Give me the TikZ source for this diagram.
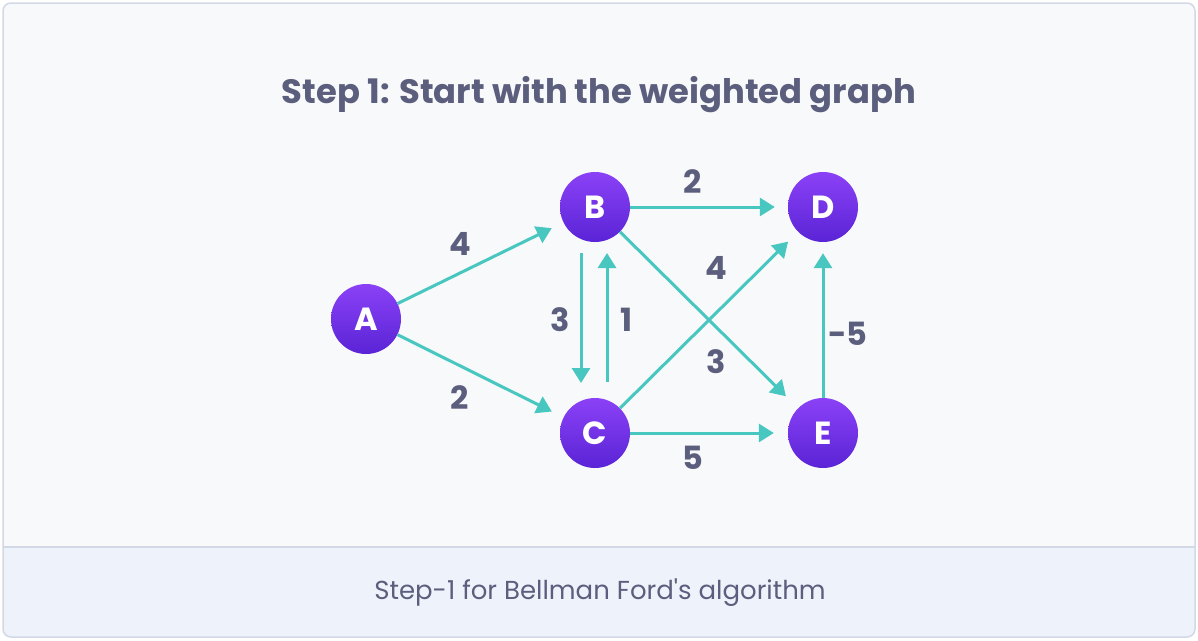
\documentclass[tikz,border=0pt]{standalone}
\usepackage{fontspec}
\setmainfont{Poppins}
\usetikzlibrary{arrows.meta}
\definecolor{edgec}{HTML}{48C6C0}
\definecolor{txtc}{HTML}{5C5E7D}
\definecolor{topc}{HTML}{8B41F6}
\definecolor{botc}{HTML}{5A24D6}
\definecolor{bgtop}{HTML}{F8F9FB}
\definecolor{bgbot}{HTML}{EEF3FB}
\definecolor{framec}{HTML}{D2D9E4}
\tikzset{
  vertex/.style={circle, minimum size=70pt, inner sep=0pt, top color=topc, bottom color=botc, text=white, font=\fontsize{32}{34}\selectfont\bfseries},
  edge/.style={draw=edgec, line width=3pt, -{Triangle[length=15pt,width=18pt]}},
  wlabel/.style={text=txtc, font=\fontsize{32}{34}\selectfont\bfseries, inner sep=0pt},
}
\begin{document}
\begin{tikzpicture}[x=1pt,y=-1pt]
\useasboundingbox (0,0) rectangle (1198,640);
% frame
\fill[bgtop, rounded corners=8pt] (3,3) rectangle (1195,637);
\fill[bgbot, rounded corners=8pt] (3,547) -- (3,637) -- (1195,637) -- (1195,547) [sharp corners] -- cycle;
\fill[bgbot] (3,547) rectangle (1195,600);
\draw[framec, line width=1.5pt] (3,547) -- (1195,547);
\draw[framec, line width=1.5pt, rounded corners=8pt] (3,3) rectangle (1195,637);
% title and caption
\node[text=txtc, font=\fontsize{33.8}{38}\selectfont\bfseries] (title) at (599,95) {Step 1: Start with the weighted graph};
\node[text=txtc, font=\fontsize{26}{30}\selectfont] (caption) at (600,593) {Step-1 for Bellman Ford\textquotesingle s algorithm};
% vertices
\node[vertex] (A) at (366,319) {A};
\node[vertex] (B) at (595,207) {B};
\node[vertex] (D) at (823,207) {D};
\node[vertex] (C) at (595,433) {C};
\node[vertex] (E) at (823,433) {E};
% edges
\draw[edge, shorten >=13pt] (A) -- (B);
\draw[edge, shorten >=13pt] (A) -- (C);
\draw[edge, shorten >=13pt] (B) -- (D);
\draw[edge, shorten >=14pt] (C) -- (E);
\draw[edge, shorten >=17pt] (B) -- (E);
\draw[edge, shorten >=14pt] (C) -- (D);
\draw[edge, shorten >=11pt] (E) -- (D);
\draw[edge, shorten <=46pt, shorten >=50pt] ([xshift=-14pt]B.center) -- ([xshift=-14pt]C.center);
\draw[edge, shorten <=51pt, shorten >=46pt] ([xshift=12pt]C.center) -- ([xshift=12pt]B.center);
% weights
\node[wlabel] (wab) at (460,244) {4};
\node[wlabel] (wac) at (460,398) {2};
\node[wlabel] (wbd) at (693,182) {2};
\node[wlabel] (wbc) at (560,320) {3};
\node[wlabel] (wcb) at (627,320) {1};
\node[wlabel] (wcd) at (716,268) {4};
\node[wlabel] (wbe) at (716,362) {3};
\node[wlabel] (wed) at (848,334) {-5};
\node[wlabel] (wce) at (693,458) {5};
\end{tikzpicture}
\end{document}
